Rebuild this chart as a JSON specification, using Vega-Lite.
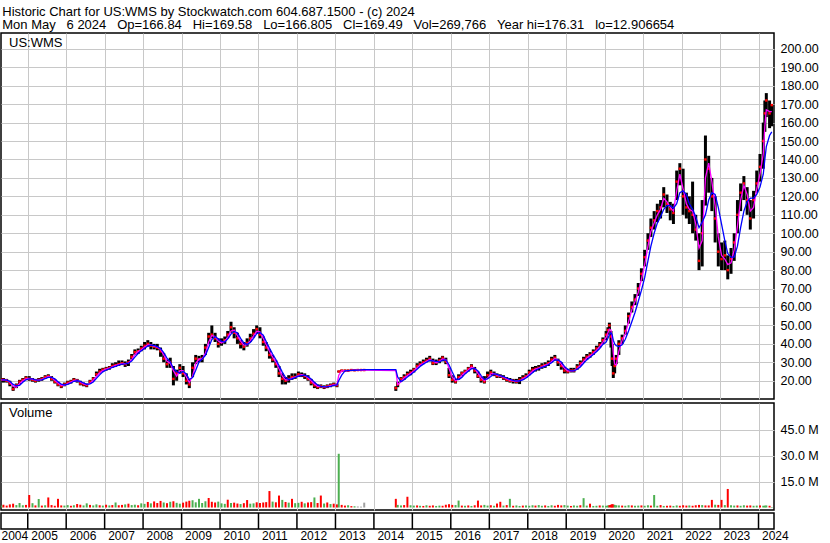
{
"$schema":"https://vega.github.io/schema/vega-lite/v6.json",
"background":"white",
"padding":{"left":0,"top":5,"right":0,"bottom":0},
"config":{"font":"Liberation Sans","view":{"stroke":"black","strokeWidth":1.5},
"axis":{"labelFont":"Liberation Sans","labelColor":"black","gridColor":"#c8c8c8","gridOpacity":1,"gridWidth":1},
"title":{"font":"Liberation Sans","color":"black","fontWeight":"normal"}},
"title":{"text":["Historic Chart for US:WMS by Stockwatch.com 604.687.1500 - (c) 2024","Mon May\u00a0\u00a0\u00a06 2024\u00a0\u00a0\u00a0Op=166.84\u00a0\u00a0\u00a0Hi=169.58\u00a0\u00a0\u00a0Lo=166.805\u00a0\u00a0\u00a0Cl=169.49\u00a0\u00a0\u00a0Vol=269,766\u00a0\u00a0\u00a0Year hi=176.31\u00a0\u00a0\u00a0lo=12.906654"],"anchor":"start","frame":"bounds","fontSize":13,"lineHeight":13.5,"offset":0,"dx":2},
"datasets":{
"yrs":[{"d":"2005-01-01"},{"d":"2006-01-01"},{"d":"2007-01-01"},{"d":"2008-01-01"},{"d":"2009-01-01"},{"d":"2010-01-01"},{"d":"2011-01-01"},{"d":"2012-01-01"},{"d":"2013-01-01"},{"d":"2014-01-01"},{"d":"2015-01-01"},{"d":"2016-01-01"},{"d":"2017-01-01"},{"d":"2018-01-01"},{"d":"2019-01-01"},{"d":"2020-01-01"},{"d":"2021-01-01"},{"d":"2022-01-01"},{"d":"2023-01-01"},{"d":"2024-01-01"}],
"px":[
{"d":"2004-04-26","h":21.5,"l":19.5,"c":20.5,"m":20.5,"b":20.5,"v":1.2,"s":"up"},
{"d":"2004-05-15","h":21.5,"l":19,"c":20.5,"m":20.5,"b":20.5,"v":1.6,"s":"down"},
{"d":"2004-06-15","h":21,"l":19,"c":20,"m":20.3,"b":20.3,"v":1.1,"s":"down"},
{"d":"2004-07-15","h":20,"l":17,"c":18.5,"m":19.3,"b":19.7,"v":1.8,"s":"down"},
{"d":"2004-08-15","h":17,"l":14.5,"c":15.5,"m":17,"b":18,"v":2.2,"s":"down"},
{"d":"2004-09-15","h":18.5,"l":16,"c":17.5,"m":16.5,"b":17.2,"v":1.4,"s":"up"},
{"d":"2004-10-15","h":20.5,"l":18,"c":19.5,"m":18.5,"b":17.5,"v":2.6,"s":"up"},
{"d":"2004-11-15","h":21.5,"l":19.5,"c":20.5,"m":20,"b":19.2,"v":1.3,"s":"up"},
{"d":"2004-12-15","h":22.5,"l":20.5,"c":21.5,"m":21,"b":20.5,"v":1.5,"s":"down"},
{"d":"2005-01-15","h":22.5,"l":20,"c":21,"m":21.3,"b":21,"v":7.2,"s":"down"},
{"d":"2005-02-15","h":21.5,"l":19.5,"c":20.5,"m":20.8,"b":21,"v":2.5,"s":"up"},
{"d":"2005-03-15","h":21,"l":19,"c":20,"m":20.3,"b":20.5,"v":1.2,"s":"down"},
{"d":"2005-04-15","h":21.5,"l":19.5,"c":20.5,"m":20.3,"b":20.3,"v":4.9,"s":"up"},
{"d":"2005-05-15","h":22,"l":20,"c":21,"m":20.8,"b":20.5,"v":1.1,"s":"down"},
{"d":"2005-06-15","h":23,"l":21,"c":22,"m":21.5,"b":21.2,"v":1.3,"s":"up"},
{"d":"2005-07-15","h":23.5,"l":21.5,"c":22.5,"m":22.3,"b":21.8,"v":5.8,"s":"down"},
{"d":"2005-08-15","h":22.5,"l":20,"c":21,"m":21.8,"b":21.8,"v":1.4,"s":"down"},
{"d":"2005-09-15","h":21,"l":18.5,"c":19.5,"m":20.3,"b":21,"v":1.0,"s":"down"},
{"d":"2005-10-15","h":19.5,"l":17,"c":18,"m":18.8,"b":19.5,"v":5,"s":"down"},
{"d":"2005-11-15","h":18,"l":16,"c":17,"m":17.5,"b":18.2,"v":1.2,"s":"down"},
{"d":"2005-12-15","h":19,"l":17,"c":18,"m":17.5,"b":17.7,"v":1.1,"s":"up"},
{"d":"2006-01-15","h":20,"l":18,"c":19,"m":18.5,"b":18,"v":1.4,"s":"up"},
{"d":"2006-02-15","h":20.5,"l":18.5,"c":19.5,"m":19.3,"b":18.8,"v":1.0,"s":"down"},
{"d":"2006-03-15","h":21.5,"l":19.5,"c":20.5,"m":20,"b":19.7,"v":1.3,"s":"up"},
{"d":"2006-04-15","h":21,"l":19,"c":20,"m":20.3,"b":20,"v":2.0,"s":"down"},
{"d":"2006-05-15","h":20,"l":17.5,"c":18.5,"m":19.3,"b":19.7,"v":1.6,"s":"down"},
{"d":"2006-06-15","h":19,"l":17,"c":18,"m":18.3,"b":18.8,"v":1.2,"s":"up"},
{"d":"2006-07-15","h":18.5,"l":16.5,"c":17.5,"m":17.8,"b":18,"v":2.4,"s":"up"},
{"d":"2006-08-15","h":20.5,"l":18.5,"c":19.5,"m":18.5,"b":18.3,"v":1.5,"s":"down"},
{"d":"2006-09-15","h":22,"l":20,"c":21,"m":20.3,"b":19.3,"v":1.2,"s":"up"},
{"d":"2006-10-15","h":25,"l":22.5,"c":23.5,"m":22.3,"b":21.3,"v":1.8,"s":"up"},
{"d":"2006-11-15","h":26.5,"l":24,"c":25,"m":24.3,"b":23.2,"v":1.3,"s":"down"},
{"d":"2006-12-15","h":27,"l":25,"c":26,"m":25.5,"b":24.8,"v":1.1,"s":"up"},
{"d":"2007-01-15","h":27.5,"l":25.5,"c":26.5,"m":26.3,"b":25.8,"v":1.6,"s":"down"},
{"d":"2007-02-15","h":28,"l":26,"c":27,"m":26.8,"b":26.5,"v":1.2,"s":"up"},
{"d":"2007-03-15","h":29.5,"l":27,"c":28,"m":27.5,"b":27.2,"v":1.4,"s":"down"},
{"d":"2007-04-15","h":30,"l":27.5,"c":28.5,"m":28.3,"b":27.8,"v":2.9,"s":"up"},
{"d":"2007-05-15","h":31,"l":28,"c":29,"m":28.8,"b":28.5,"v":1.3,"s":"down"},
{"d":"2007-06-15","h":31,"l":28.5,"c":29.5,"m":29.3,"b":29,"v":1.5,"s":"down"},
{"d":"2007-07-15","h":30.5,"l":27.5,"c":29,"m":29.3,"b":29.2,"v":1.8,"s":"up"},
{"d":"2007-08-15","h":31.5,"l":28,"c":30,"m":29.5,"b":29.5,"v":2.2,"s":"down"},
{"d":"2007-09-15","h":34.5,"l":31.5,"c":33,"m":31.5,"b":30.7,"v":1.4,"s":"up"},
{"d":"2007-10-15","h":37,"l":34,"c":35.5,"m":34.3,"b":32.8,"v":1.6,"s":"up"},
{"d":"2007-11-15","h":37.5,"l":34.5,"c":36,"m":35.8,"b":34.8,"v":1.3,"s":"down"},
{"d":"2007-12-15","h":39,"l":36,"c":37.5,"m":36.8,"b":36.3,"v":2.4,"s":"up"},
{"d":"2008-01-15","h":41,"l":37,"c":39,"m":38.3,"b":37.5,"v":2.1,"s":"up"},
{"d":"2008-02-15","h":42,"l":38.5,"c":40,"m":39.5,"b":38.8,"v":3.2,"s":"down"},
{"d":"2008-03-15","h":41,"l":37,"c":39,"m":39.5,"b":39.3,"v":2.4,"s":"up"},
{"d":"2008-04-15","h":40,"l":37,"c":38.5,"m":38.8,"b":39.2,"v":3.5,"s":"down"},
{"d":"2008-05-15","h":40,"l":36.5,"c":38,"m":38.3,"b":38.5,"v":2.6,"s":"down"},
{"d":"2008-06-15","h":38,"l":33,"c":36,"m":37,"b":37.5,"v":3.8,"s":"down"},
{"d":"2008-07-15","h":35,"l":30,"c":32,"m":34,"b":35.3,"v":2.9,"s":"up"},
{"d":"2008-08-15","h":31.5,"l":27,"c":29,"m":30.5,"b":32.3,"v":2.5,"s":"down"},
{"d":"2008-09-15","h":32.5,"l":27,"c":30,"m":29.5,"b":30.3,"v":3.3,"s":"up"},
{"d":"2008-10-15","h":28,"l":17.5,"c":21,"m":25.5,"b":26.7,"v":3.6,"s":"down"},
{"d":"2008-11-15","h":26,"l":20,"c":24,"m":22.5,"b":25,"v":2.7,"s":"up"},
{"d":"2008-12-15","h":29,"l":24,"c":27,"m":25.5,"b":24,"v":2.2,"s":"up"},
{"d":"2009-01-15","h":28,"l":22,"c":24,"m":25.5,"b":25,"v":2.8,"s":"down"},
{"d":"2009-02-15","h":24,"l":18,"c":20,"m":22,"b":23.7,"v":3.4,"s":"down"},
{"d":"2009-03-15","h":21,"l":16,"c":18,"m":19,"b":20.7,"v":3.9,"s":"down"},
{"d":"2009-04-15","h":30,"l":22,"c":27,"m":22.5,"b":21.7,"v":4.2,"s":"up"},
{"d":"2009-05-15","h":34,"l":29,"c":32,"m":29.5,"b":25.7,"v":3.0,"s":"up"},
{"d":"2009-06-15","h":33.5,"l":30,"c":31.5,"m":31.8,"b":30.2,"v":5.0,"s":"up"},
{"d":"2009-07-15","h":34,"l":30,"c":32,"m":31.8,"b":31.8,"v":2.6,"s":"up"},
{"d":"2009-08-15","h":40,"l":34,"c":38,"m":35,"b":33.8,"v":3.6,"s":"up"},
{"d":"2009-09-15","h":46,"l":40,"c":44,"m":41,"b":38,"v":5.5,"s":"down"},
{"d":"2009-10-15","h":50,"l":43,"c":45,"m":44.5,"b":42.3,"v":3.3,"s":"down"},
{"d":"2009-11-15","h":46,"l":41,"c":43,"m":44,"b":44,"v":2.9,"s":"down"},
{"d":"2009-12-15","h":43,"l":38,"c":40,"m":41.5,"b":42.7,"v":3.4,"s":"up"},
{"d":"2010-01-15","h":43,"l":39,"c":41,"m":40.5,"b":41.3,"v":2.4,"s":"up"},
{"d":"2010-02-15","h":44,"l":40,"c":42,"m":41.5,"b":41,"v":2.1,"s":"up"},
{"d":"2010-03-15","h":47,"l":43,"c":45,"m":43.5,"b":42.7,"v":4.5,"s":"down"},
{"d":"2010-04-15","h":52,"l":46,"c":49,"m":47,"b":45.3,"v":2.6,"s":"up"},
{"d":"2010-05-15","h":49,"l":43,"c":46,"m":47.5,"b":46.7,"v":2.8,"s":"down"},
{"d":"2010-06-15","h":46,"l":40,"c":43,"m":44.5,"b":46,"v":2.3,"s":"down"},
{"d":"2010-07-15","h":42,"l":37.5,"c":40,"m":41.5,"b":43,"v":2.0,"s":"up"},
{"d":"2010-08-15","h":41,"l":36.5,"c":38.5,"m":39.3,"b":40.5,"v":2.5,"s":"down"},
{"d":"2010-09-15","h":43,"l":38.5,"c":40.5,"m":39.5,"b":39.7,"v":4.3,"s":"down"},
{"d":"2010-10-15","h":45.5,"l":41,"c":43,"m":41.8,"b":40.7,"v":2.2,"s":"up"},
{"d":"2010-11-15","h":48,"l":43.5,"c":45.5,"m":44.3,"b":43,"v":2.4,"s":"up"},
{"d":"2010-12-15","h":50,"l":45.5,"c":48,"m":46.8,"b":45.5,"v":3.0,"s":"down"},
{"d":"2011-01-15","h":49,"l":43,"c":45,"m":46.5,"b":46.2,"v":2.6,"s":"down"},
{"d":"2011-02-15","h":44,"l":39,"c":41,"m":43,"b":44.7,"v":2.9,"s":"down"},
{"d":"2011-03-15","h":41,"l":36,"c":38,"m":39.5,"b":41.3,"v":3.1,"s":"down"},
{"d":"2011-04-15","h":37,"l":32,"c":34,"m":36,"b":37.7,"v":9.5,"s":"down"},
{"d":"2011-05-15","h":34,"l":30,"c":31.5,"m":32.8,"b":34.5,"v":3.4,"s":"up"},
{"d":"2011-06-15","h":31,"l":27,"c":29,"m":30.3,"b":31.5,"v":3.0,"s":"down"},
{"d":"2011-07-15","h":28,"l":22,"c":24,"m":26.5,"b":28.2,"v":6.9,"s":"down"},
{"d":"2011-08-15","h":24,"l":18,"c":21,"m":22.5,"b":24.7,"v":4.4,"s":"up"},
{"d":"2011-09-15","h":22,"l":18,"c":20,"m":20.5,"b":21.7,"v":3.2,"s":"down"},
{"d":"2011-10-15","h":23,"l":19,"c":21,"m":20.5,"b":20.7,"v":2.8,"s":"up"},
{"d":"2011-11-15","h":24,"l":20.5,"c":22,"m":21.5,"b":21,"v":5,"s":"down"},
{"d":"2011-12-15","h":24,"l":21,"c":22,"m":22,"b":21.7,"v":2.5,"s":"up"},
{"d":"2012-01-15","h":25,"l":22,"c":23.5,"m":22.8,"b":22.5,"v":2.7,"s":"up"},
{"d":"2012-02-15","h":24.5,"l":22,"c":23,"m":23.3,"b":22.8,"v":3.3,"s":"down"},
{"d":"2012-03-15","h":24,"l":21,"c":22.5,"m":22.8,"b":23,"v":2.4,"s":"up"},
{"d":"2012-04-15","h":23,"l":20,"c":21,"m":21.8,"b":22.2,"v":2.9,"s":"down"},
{"d":"2012-05-15","h":21,"l":17.5,"c":19,"m":20,"b":21,"v":3.1,"s":"down"},
{"d":"2012-06-15","h":19,"l":16,"c":17.5,"m":18.3,"b":19.2,"v":5.8,"s":"up"},
{"d":"2012-07-15","h":18,"l":15.5,"c":16.5,"m":17,"b":17.7,"v":2.6,"s":"down"},
{"d":"2012-08-15","h":18,"l":16,"c":17,"m":16.8,"b":17,"v":6.9,"s":"down"},
{"d":"2012-09-15","h":17.5,"l":15.5,"c":16.5,"m":16.8,"b":16.7,"v":2.3,"s":"up"},
{"d":"2012-10-15","h":18,"l":16,"c":17,"m":16.8,"b":16.8,"v":2.9,"s":"down"},
{"d":"2012-11-15","h":18.5,"l":16.5,"c":17.5,"m":17.3,"b":17,"v":2.0,"s":"up"},
{"d":"2012-12-15","h":19,"l":17,"c":18,"m":17.8,"b":17.5,"v":2.2,"s":"down"},
{"d":"2013-01-15","h":18.5,"l":16.5,"c":17.5,"m":17.8,"b":17.7,"v":1.8,"s":"down"},
{"d":"2013-02-01","h":25.5,"l":24.5,"c":25,"m":23,"b":20,"v":31,"s":"up"},
{"d":"2013-03-01","h":26,"l":25,"c":25.5,"m":25.3,"b":23,"v":1.5,"s":"down"},
{"d":"2013-04-01","h":26,"l":25,"c":25.5,"m":25.5,"b":25.3,"v":1.1,"s":"down"},
{"d":"2013-05-01","h":26,"l":25,"c":25.5,"m":25.5,"b":25.5,"v":1.3,"s":"up"},
{"d":"2013-06-01","h":26.2,"l":25.3,"c":25.8,"m":25.6,"b":25.6,"v":0.8,"s":"down"},
{"d":"2013-07-01","h":26.2,"l":25.2,"c":25.7,"m":25.7,"b":25.7,"v":0.7,"s":"up"},
{"d":"2013-08-01","h":26.2,"l":25.4,"c":25.8,"m":25.8,"b":25.8,"v":0.6,"s":"flat"},
{"d":"2013-09-01","h":26.2,"l":25.4,"c":25.8,"m":25.8,"b":25.9,"v":0.5,"s":"flat"},
{"d":"2013-10-01","h":26.2,"l":25.4,"c":25.8,"m":25.8,"b":26,"v":2.8,"s":"flat"},
{"d":"2014-07-28","h":17,"l":14.5,"c":16,"m":25.5,"b":26,"v":5,"s":"down"},
{"d":"2014-08-15","h":19.5,"l":16.5,"c":18,"m":18,"b":22,"v":1.5,"s":"up"},
{"d":"2014-09-15","h":22,"l":19.5,"c":21,"m":19.5,"b":19.5,"v":1.2,"s":"up"},
{"d":"2014-10-15","h":23.5,"l":20.5,"c":22,"m":21.5,"b":20.5,"v":1.4,"s":"down"},
{"d":"2014-11-15","h":25,"l":22.5,"c":23.5,"m":22.8,"b":22,"v":6.2,"s":"down"},
{"d":"2014-12-15","h":26,"l":23,"c":24.5,"m":24,"b":23.3,"v":1.3,"s":"up"},
{"d":"2015-01-15","h":27,"l":24.5,"c":26,"m":25.3,"b":24.7,"v":1.1,"s":"up"},
{"d":"2015-02-15","h":29.5,"l":27,"c":28,"m":27,"b":26.2,"v":1.2,"s":"down"},
{"d":"2015-03-15","h":30.5,"l":28,"c":29,"m":28.5,"b":27.7,"v":1.0,"s":"up"},
{"d":"2015-04-15","h":31.5,"l":29,"c":30,"m":29.5,"b":29,"v":0.9,"s":"down"},
{"d":"2015-05-15","h":32.5,"l":30,"c":31,"m":30.5,"b":30,"v":1.3,"s":"up"},
{"d":"2015-06-15","h":33.5,"l":30.5,"c":32,"m":31.5,"b":31,"v":1.0,"s":"down"},
{"d":"2015-07-15","h":32,"l":28.5,"c":29.5,"m":30.8,"b":30.8,"v":1.2,"s":"down"},
{"d":"2015-08-15","h":31.5,"l":28.5,"c":30,"m":29.8,"b":30.5,"v":0.9,"s":"up"},
{"d":"2015-09-15","h":32.5,"l":29.5,"c":31,"m":30.5,"b":30.2,"v":1.1,"s":"up"},
{"d":"2015-10-15","h":33.5,"l":30.5,"c":32.5,"m":31.8,"b":31.2,"v":1.0,"s":"down"},
{"d":"2015-11-15","h":32.5,"l":29,"c":30.5,"m":31.5,"b":31.3,"v":1.6,"s":"down"},
{"d":"2015-12-15","h":27,"l":21.5,"c":23,"m":26.8,"b":28.7,"v":1.9,"s":"down"},
{"d":"2016-01-15","h":23,"l":19,"c":20.5,"m":21.8,"b":24.7,"v":1.5,"s":"down"},
{"d":"2016-02-15","h":21,"l":18.5,"c":19.5,"m":20,"b":21,"v":1.4,"s":"up"},
{"d":"2016-03-15","h":23.5,"l":20.5,"c":22,"m":20.8,"b":20.7,"v":4,"s":"up"},
{"d":"2016-04-15","h":25,"l":22.5,"c":24,"m":23,"b":21.8,"v":1.1,"s":"down"},
{"d":"2016-05-15","h":26,"l":24,"c":25,"m":24.5,"b":23.7,"v":1.0,"s":"up"},
{"d":"2016-06-15","h":27.5,"l":25,"c":26.5,"m":25.8,"b":25.2,"v":1.2,"s":"down"},
{"d":"2016-07-15","h":29,"l":26.5,"c":28,"m":27.3,"b":26.5,"v":0.9,"s":"up"},
{"d":"2016-08-15","h":27.5,"l":24,"c":25.5,"m":26.8,"b":26.7,"v":1.3,"s":"down"},
{"d":"2016-09-15","h":25,"l":21.5,"c":22.5,"m":24,"b":25.3,"v":4,"s":"down"},
{"d":"2016-10-15","h":22,"l":19,"c":20.5,"m":21.5,"b":22.8,"v":1.2,"s":"down"},
{"d":"2016-11-15","h":22.5,"l":18.5,"c":19.5,"m":20,"b":20.8,"v":1.5,"s":"up"},
{"d":"2016-12-15","h":25,"l":21.5,"c":23,"m":21.3,"b":21,"v":1.1,"s":"up"},
{"d":"2017-01-15","h":26,"l":23,"c":24.5,"m":23.8,"b":22.3,"v":1.3,"s":"down"},
{"d":"2017-02-15","h":25,"l":22.5,"c":23.5,"m":24,"b":23.7,"v":1.0,"s":"up"},
{"d":"2017-03-15","h":24,"l":21.5,"c":22.5,"m":23,"b":23.5,"v":2.3,"s":"down"},
{"d":"2017-04-15","h":23.5,"l":21.5,"c":22.5,"m":22.5,"b":22.8,"v":3.3,"s":"down"},
{"d":"2017-05-15","h":23,"l":20.5,"c":21.5,"m":22,"b":22.2,"v":1.1,"s":"up"},
{"d":"2017-06-15","h":22,"l":19.5,"c":20.5,"m":21,"b":21.5,"v":1.4,"s":"down"},
{"d":"2017-07-15","h":21.5,"l":19,"c":20,"m":20.3,"b":20.7,"v":5,"s":"up"},
{"d":"2017-08-15","h":21,"l":18.5,"c":20,"m":20,"b":20.2,"v":1.0,"s":"down"},
{"d":"2017-09-15","h":21,"l":18.5,"c":19.5,"m":19.8,"b":19.8,"v":1.2,"s":"up"},
{"d":"2017-10-15","h":22,"l":18.2,"c":20.5,"m":20,"b":20,"v":0.9,"s":"up"},
{"d":"2017-11-15","h":23,"l":20.5,"c":21.5,"m":21,"b":20.5,"v":1.1,"s":"down"},
{"d":"2017-12-15","h":24,"l":21.5,"c":22.5,"m":22,"b":21.5,"v":1.2,"s":"up"},
{"d":"2018-01-15","h":26,"l":23,"c":24.5,"m":23.5,"b":22.8,"v":1.0,"s":"up"},
{"d":"2018-02-15","h":27.5,"l":24.5,"c":26,"m":25.3,"b":24.3,"v":1.3,"s":"up"},
{"d":"2018-03-15","h":28,"l":25,"c":26.5,"m":26.3,"b":25.7,"v":1.1,"s":"down"},
{"d":"2018-04-15","h":28.5,"l":25.5,"c":27,"m":26.8,"b":26.5,"v":1.4,"s":"up"},
{"d":"2018-05-15","h":29.5,"l":26.5,"c":28,"m":27.5,"b":27.2,"v":1.0,"s":"up"},
{"d":"2018-06-15","h":30,"l":27,"c":28.5,"m":28.3,"b":27.8,"v":1.2,"s":"down"},
{"d":"2018-07-15","h":31,"l":28,"c":29.5,"m":29,"b":28.7,"v":0.9,"s":"up"},
{"d":"2018-08-15","h":33,"l":30,"c":31.5,"m":30.5,"b":29.8,"v":1.3,"s":"up"},
{"d":"2018-09-15","h":34,"l":31,"c":32.5,"m":32,"b":31.2,"v":1.0,"s":"down"},
{"d":"2018-10-15","h":32,"l":28,"c":30,"m":31.3,"b":31.3,"v":1.5,"s":"down"},
{"d":"2018-11-15","h":30,"l":26,"c":28,"m":29,"b":30.2,"v":1.2,"s":"down"},
{"d":"2018-12-15","h":27.5,"l":24,"c":25.5,"m":26.8,"b":27.8,"v":1.4,"s":"up"},
{"d":"2019-01-15","h":26.5,"l":24,"c":25,"m":25.3,"b":26.2,"v":1.1,"s":"up"},
{"d":"2019-02-15","h":27,"l":24.5,"c":25.5,"m":25.3,"b":25.3,"v":0.9,"s":"down"},
{"d":"2019-03-15","h":27,"l":24.5,"c":25.5,"m":25.5,"b":25.3,"v":1.2,"s":"up"},
{"d":"2019-04-15","h":29,"l":26,"c":27.5,"m":26.5,"b":26.2,"v":1.0,"s":"up"},
{"d":"2019-05-15","h":31,"l":28,"c":29.5,"m":28.5,"b":27.5,"v":1.3,"s":"down"},
{"d":"2019-06-15","h":33,"l":30,"c":31.5,"m":30.5,"b":29.5,"v":5.4,"s":"up"},
{"d":"2019-07-15","h":34.5,"l":31.5,"c":33,"m":32.3,"b":31.3,"v":1.1,"s":"up"},
{"d":"2019-08-15","h":35.5,"l":32.5,"c":34,"m":33.5,"b":32.8,"v":2.2,"s":"down"},
{"d":"2019-09-15","h":37,"l":34,"c":35.5,"m":34.8,"b":34.2,"v":0.9,"s":"up"},
{"d":"2019-10-15","h":39,"l":36,"c":37.5,"m":36.5,"b":35.7,"v":1.0,"s":"up"},
{"d":"2019-11-15","h":41,"l":38,"c":39.5,"m":38.5,"b":37.5,"v":1.2,"s":"down"},
{"d":"2019-12-15","h":43.5,"l":40,"c":42,"m":40.8,"b":39.7,"v":1.1,"s":"up"},
{"d":"2020-01-15","h":47,"l":42,"c":45,"m":43.5,"b":41,"v":1.0,"s":"up"},
{"d":"2020-02-01","h":49,"l":45,"c":47.5,"m":46,"b":43,"v":1.2,"s":"up"},
{"d":"2020-02-15","h":51.5,"l":47.5,"c":50,"m":48,"b":45,"v":1.4,"s":"down"},
{"d":"2020-03-01","h":47,"l":38,"c":44,"m":47.5,"b":46,"v":1.6,"s":"down"},
{"d":"2020-03-12","h":40,"l":28,"c":32,"m":42,"b":45,"v":1.9,"s":"down"},
{"d":"2020-03-23","h":28,"l":21.5,"c":24,"m":35,"b":42,"v":1.8,"s":"down"},
{"d":"2020-04-05","h":31,"l":24,"c":28,"m":29,"b":40,"v":1.5,"s":"up"},
{"d":"2020-04-20","h":34,"l":29,"c":32,"m":28.5,"b":39,"v":1.3,"s":"up"},
{"d":"2020-05-15","h":42,"l":34,"c":40,"m":36,"b":38.5,"v":1.2,"s":"up"},
{"d":"2020-06-15","h":45,"l":40,"c":43,"m":42,"b":39.5,"v":1.1,"s":"down"},
{"d":"2020-07-15","h":50,"l":45,"c":47,"m":45.5,"b":42.5,"v":1.0,"s":"up"},
{"d":"2020-08-15","h":57,"l":51,"c":55,"m":52,"b":47,"v":1.3,"s":"up"},
{"d":"2020-09-15","h":63,"l":57,"c":60,"m":58.5,"b":52,"v":1.2,"s":"down"},
{"d":"2020-10-15","h":67,"l":61,"c":64,"m":63,"b":57,"v":1.0,"s":"up"},
{"d":"2020-11-15","h":73,"l":66,"c":70,"m":68,"b":63,"v":1.1,"s":"up"},
{"d":"2020-12-15","h":81,"l":74,"c":78,"m":75,"b":69,"v":1.2,"s":"down"},
{"d":"2021-01-15","h":91,"l":82,"c":87,"m":83,"b":76,"v":1.0,"s":"up"},
{"d":"2021-02-15","h":100,"l":91,"c":96,"m":93,"b":85,"v":1.3,"s":"up"},
{"d":"2021-03-15","h":108,"l":98,"c":103,"m":101,"b":93,"v":1.1,"s":"down"},
{"d":"2021-04-15","h":112,"l":102,"c":107,"m":105.5,"b":100,"v":7.2,"s":"up"},
{"d":"2021-05-15","h":116,"l":106,"c":112,"m":110,"b":105.5,"v":1.0,"s":"up"},
{"d":"2021-06-15","h":118,"l":108,"c":114,"m":113,"b":109,"v":1.4,"s":"down"},
{"d":"2021-07-15","h":125,"l":114,"c":121,"m":119,"b":113,"v":0.9,"s":"up"},
{"d":"2021-08-15","h":121,"l":111,"c":116,"m":117,"b":115,"v":1.0,"s":"down"},
{"d":"2021-09-15","h":117,"l":107,"c":113,"m":114,"b":115,"v":1.1,"s":"down"},
{"d":"2021-10-15","h":116,"l":105,"c":111,"m":112,"b":113.5,"v":0.9,"s":"up"},
{"d":"2021-11-15","h":134,"l":118,"c":128,"m":123,"b":116,"v":1.2,"s":"up"},
{"d":"2021-12-15","h":138,"l":126,"c":135,"m":132,"b":122,"v":1.0,"s":"down"},
{"d":"2022-01-15","h":135,"l":110,"c":120,"m":124,"b":123,"v":1.3,"s":"down"},
{"d":"2022-02-15","h":122,"l":108,"c":114,"m":116,"b":121,"v":1.1,"s":"down"},
{"d":"2022-03-15","h":120,"l":105,"c":112,"m":113,"b":116,"v":1.2,"s":"up"},
{"d":"2022-04-15","h":128,"l":100,"c":110,"m":112,"b":113,"v":1.0,"s":"down"},
{"d":"2022-05-15","h":110,"l":96,"c":102,"m":105,"b":109,"v":1.3,"s":"down"},
{"d":"2022-06-15","h":100,"l":80,"c":85,"m":92,"b":103,"v":1.5,"s":"down"},
{"d":"2022-07-15","h":118,"l":82,"c":100,"m":96,"b":106,"v":1.4,"s":"up"},
{"d":"2022-08-15","h":153,"l":115,"c":140,"m":130,"b":110,"v":1.2,"s":"down"},
{"d":"2022-09-15","h":142,"l":122,"c":135,"m":138,"b":118,"v":1.2,"s":"down"},
{"d":"2022-10-15","h":130,"l":112,"c":120,"m":128,"b":122,"v":4.4,"s":"down"},
{"d":"2022-11-15","h":120,"l":95,"c":108,"m":115,"b":121,"v":1.6,"s":"up"},
{"d":"2022-12-15","h":100,"l":82,"c":90,"m":98,"b":114,"v":1.5,"s":"down"},
{"d":"2023-01-15","h":95,"l":80,"c":86,"m":88,"b":105,"v":4.4,"s":"down"},
{"d":"2023-02-15","h":96,"l":80,"c":88,"m":86,"b":96,"v":1.4,"s":"up"},
{"d":"2023-03-15","h":88,"l":75,"c":80,"m":83,"b":89,"v":10.7,"s":"down"},
{"d":"2023-04-15","h":92,"l":78,"c":86,"m":84,"b":87,"v":1.3,"s":"up"},
{"d":"2023-05-15","h":100,"l":85,"c":95,"m":91,"b":87,"v":1.1,"s":"up"},
{"d":"2023-06-15","h":118,"l":100,"c":110,"m":104,"b":93,"v":1.2,"s":"down"},
{"d":"2023-07-15","h":127,"l":112,"c":122,"m":118,"b":103,"v":1.0,"s":"up"},
{"d":"2023-08-15","h":131,"l":118,"c":127,"m":126,"b":112,"v":1.3,"s":"up"},
{"d":"2023-09-15","h":125,"l":110,"c":118,"m":121,"b":117,"v":1.1,"s":"down"},
{"d":"2023-10-15","h":118,"l":102,"c":108,"m":112,"b":119,"v":1.2,"s":"down"},
{"d":"2023-11-15","h":123,"l":108,"c":118,"m":114,"b":119,"v":1.0,"s":"up"},
{"d":"2023-12-15","h":134,"l":122,"c":127,"m":124,"b":121,"v":1.1,"s":"up"},
{"d":"2024-01-15","h":143,"l":128,"c":136,"m":132,"b":125,"v":1.2,"s":"down"},
{"d":"2024-02-15","h":160,"l":135,"c":150,"m":143,"b":132,"v":1.0,"s":"up"},
{"d":"2024-03-01","h":172,"l":155,"c":165,"m":158,"b":140,"v":1.1,"s":"up"},
{"d":"2024-03-15","h":176,"l":163,"c":172,"m":167,"b":147,"v":1.2,"s":"up"},
{"d":"2024-04-15","h":172,"l":157,"c":165,"m":166,"b":153,"v":1.0,"s":"down"},
{"d":"2024-05-06","h":170,"l":158,"c":169.5,"m":166,"b":155,"v":0.3,"s":"up"}
]},
"spacing":2,
"vconcat":[
{"width":773,"height":366,
"title":{"text":"US:WMS","anchor":"start","offset":-17,"dx":8,"fontSize":13},
"data":{"name":"px"},
"encoding":{"x":{"field":"d","type":"temporal","scale":{"domain":[{"year":2004,"month":4,"date":22},{"year":2024,"month":5,"date":27}]},"axis":{"tickCount":{"interval":"year","step":1},"grid":true,"labels":false,"ticks":false,"domain":false,"title":null}}},
"layer":[
{"mark":{"type":"rule","color":"black","strokeWidth":3,"clip":true},"encoding":{"y":{"field":"l","type":"quantitative","scale":{"domain":[10.1,208.6],"nice":false,"zero":false},"axis":{"orient":"right","values":[20,30,40,50,60,70,80,90,100,110,120,130,140,150,160,170,180,190,200],"format":".2f","grid":true,"ticks":false,"domain":false,"labelPadding":6,"labelAlign":"left","labelFontSize":12.5,"labelOverlap":false,"labelBound":false,"title":null}},"y2":{"field":"h"}}},
{"mark":{"type":"square","color":"red","size":6,"opacity":1,"clip":true},"encoding":{"y":{"field":"c","type":"quantitative","scale":{"domain":[10.1,208.6],"nice":false,"zero":false},"axis":{"orient":"right","values":[20,30,40,50,60,70,80,90,100,110,120,130,140,150,160,170,180,190,200],"format":".2f","grid":true,"ticks":false,"domain":false,"labelPadding":6,"labelAlign":"left","labelFontSize":12.5,"labelOverlap":false,"labelBound":false,"title":null}}}},
{"mark":{"type":"line","color":"#ff00ff","strokeWidth":1.3,"clip":true},"encoding":{"y":{"field":"m","type":"quantitative","scale":{"domain":[10.1,208.6],"nice":false,"zero":false},"axis":{"orient":"right","values":[20,30,40,50,60,70,80,90,100,110,120,130,140,150,160,170,180,190,200],"format":".2f","grid":true,"ticks":false,"domain":false,"labelPadding":6,"labelAlign":"left","labelFontSize":12.5,"labelOverlap":false,"labelBound":false,"title":null}}}},
{"mark":{"type":"line","color":"#0000ff","strokeWidth":1.3,"clip":true},"encoding":{"y":{"field":"b","type":"quantitative","scale":{"domain":[10.1,208.6],"nice":false,"zero":false},"axis":{"orient":"right","values":[20,30,40,50,60,70,80,90,100,110,120,130,140,150,160,170,180,190,200],"format":".2f","grid":true,"ticks":false,"domain":false,"labelPadding":6,"labelAlign":"left","labelFontSize":12.5,"labelOverlap":false,"labelBound":false,"title":null}}}}
]},
{"spacing":0,"vconcat":[
{"width":773,"height":107,
"title":{"text":"Volume","anchor":"start","offset":-17,"dx":8,"fontSize":13},
"data":{"name":"px"},
"mark":{"type":"rule","strokeWidth":2,"clip":true},
"encoding":{
"x":{"field":"d","type":"temporal","scale":{"domain":[{"year":2004,"month":4,"date":22},{"year":2024,"month":5,"date":27}]},"axis":{"tickCount":{"interval":"year","step":1},"grid":true,"labels":false,"ticks":false,"domain":false,"title":null}},
"y":{"field":"v","type":"quantitative","scale":{"domain":[-1.44,60.3],"nice":false,"zero":false},"axis":{"orient":"right","values":[15,30,45],"labelExpr":"format(datum.value, '.1f') + ' M'","grid":true,"ticks":false,"domain":false,"labelPadding":6,"labelAlign":"left","labelFontSize":12.5,"labelOverlap":false,"title":null}},
"y2":{"datum":0},
"color":{"field":"s","type":"nominal","scale":{"domain":["up","down","flat"],"range":["#4caf50","#ff0000","#a0a0a0"]},"legend":null}}},
{"width":773,"height":16,
"data":{"name":"yrs"},
"mark":{"type":"rule","color":"black","strokeWidth":1.5},
"encoding":{"x":{"field":"d","type":"temporal","scale":{"domain":[{"year":2004,"month":4,"date":22},{"year":2024,"month":5,"date":27}]},"axis":{"values":[{"year":2004,"month":4,"date":22},{"year":2005,"month":1,"date":1},{"year":2006,"month":1,"date":1},{"year":2007,"month":1,"date":1},{"year":2008,"month":1,"date":1},{"year":2009,"month":1,"date":1},{"year":2010,"month":1,"date":1},{"year":2011,"month":1,"date":1},{"year":2012,"month":1,"date":1},{"year":2013,"month":1,"date":1},{"year":2014,"month":1,"date":1},{"year":2015,"month":1,"date":1},{"year":2016,"month":1,"date":1},{"year":2017,"month":1,"date":1},{"year":2018,"month":1,"date":1},{"year":2019,"month":1,"date":1},{"year":2020,"month":1,"date":1},{"year":2021,"month":1,"date":1},{"year":2022,"month":1,"date":1},{"year":2023,"month":1,"date":1},{"year":2024,"month":1,"date":1}],"format":"%Y","labelAlign":"left","labelOffset":{"condition":{"test":"year(datum.value) == 2004","value":0},"value":3},"labelPadding":1,"ticks":false,"domain":false,"grid":false,"title":null,"labelFontSize":12,"labelOverlap":false,"labelBound":false,"labelFlush":false}}}}
]}
]
}
